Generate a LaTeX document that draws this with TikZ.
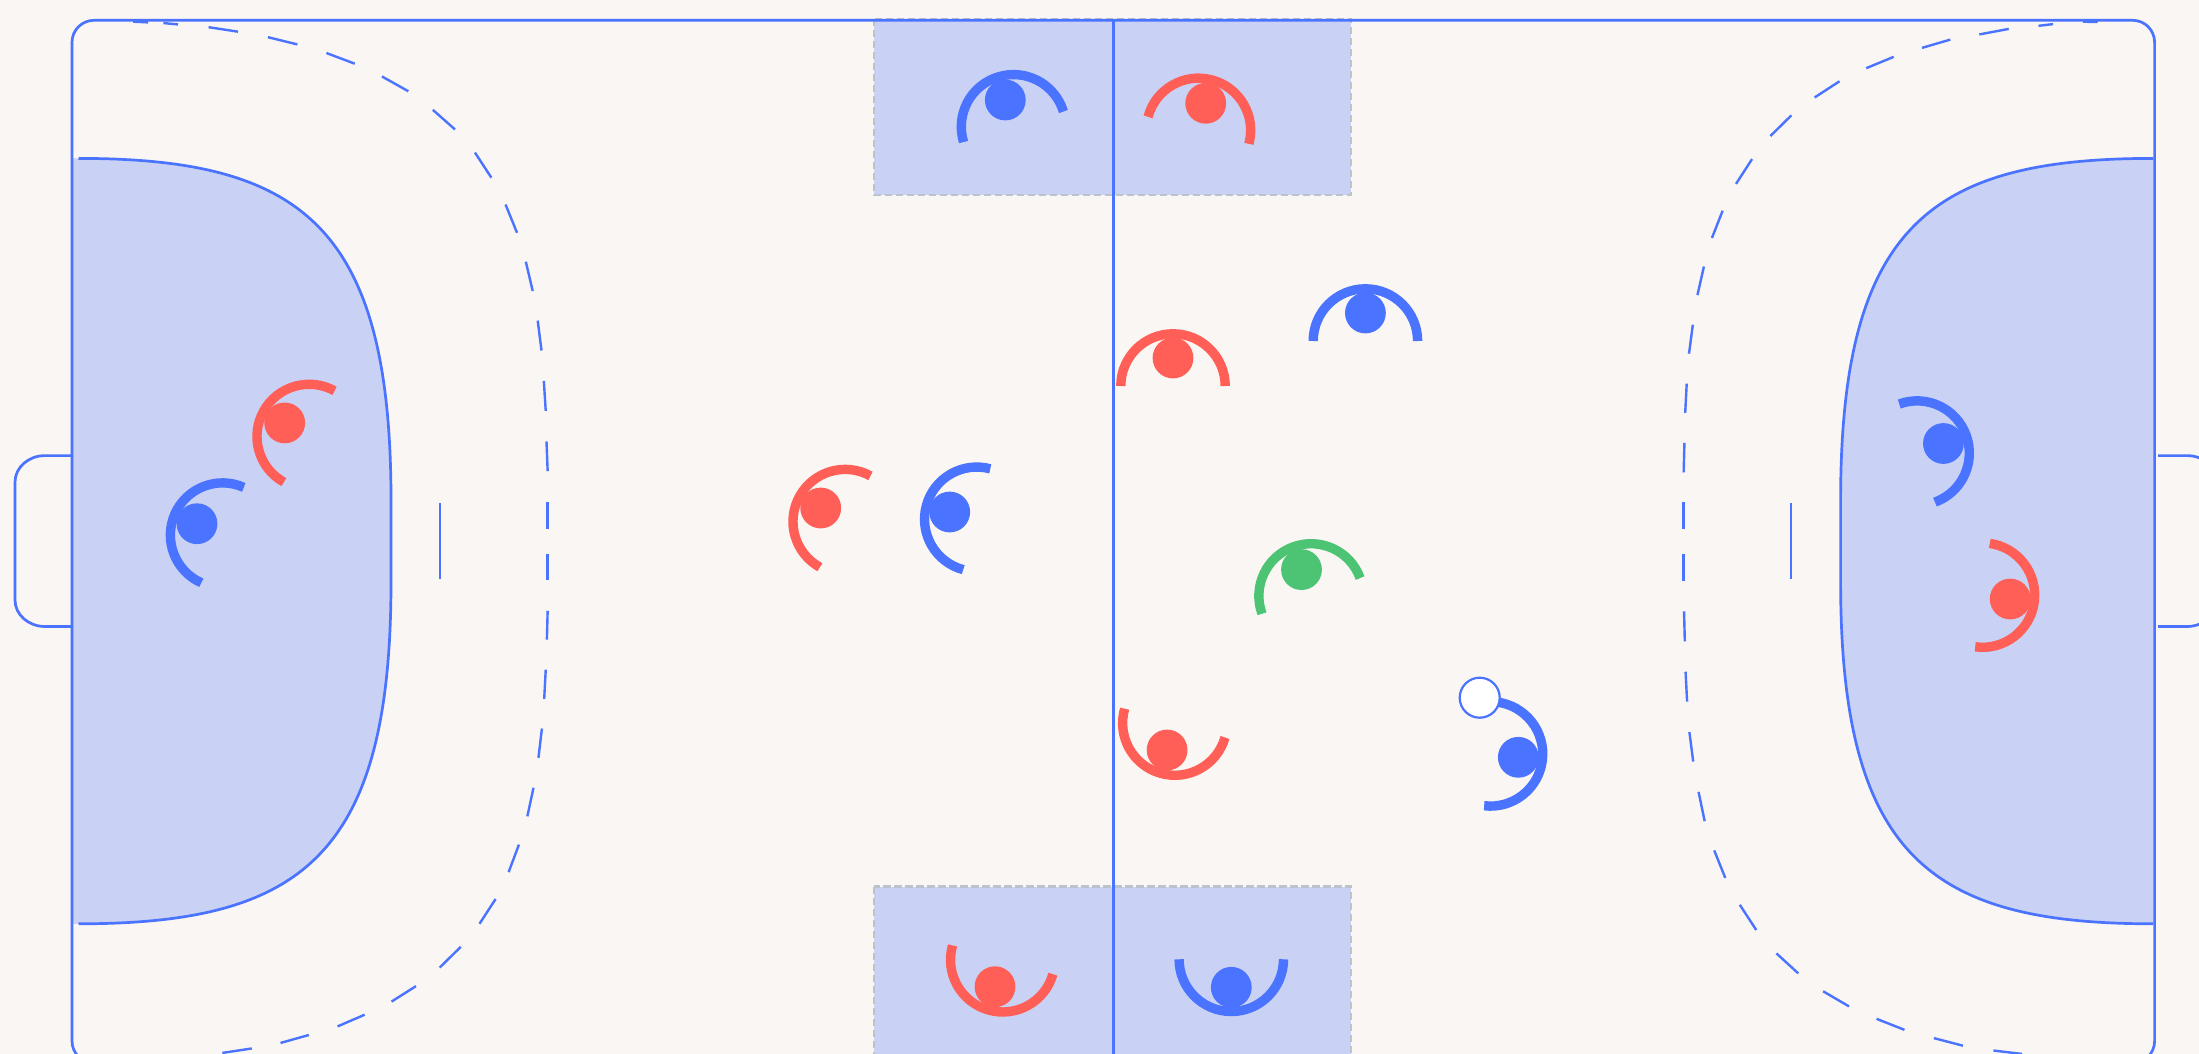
\documentclass[tikz,border=0pt]{standalone}
\definecolor{bgc}{HTML}{FAF6F3}
\definecolor{bluec}{HTML}{4A73FF}
\definecolor{redc}{HTML}{FF5F57}
\definecolor{greenc}{HTML}{4CC474}
\definecolor{areac}{HTML}{C9D2F4}
\definecolor{zonec}{HTML}{BAC4CA}
\tikzset{
  courtline/.style={draw=bluec,line width=1.35pt},
  dashpiece/.style={draw=bluec,line width=1.2pt},
  areafill/.style={fill=areac,draw=none},
  subzone/.style={fill=areac,draw=zonec,line width=1.3pt,dash pattern=on 3.6pt off 1.9pt},
  playerdot/.style={circle,inner sep=0pt,minimum size=20.4pt,draw=none},
  playerarc/.style={line width=4.7pt,line cap=butt},
  ballnode/.style={circle,inner sep=0pt,minimum size=20pt,fill=white,draw=bluec,line width=1.1pt}
}
\begin{document}
\begin{tikzpicture}[x=0.5pt,y=-0.5pt]
\useasboundingbox (0,0) rectangle (2199,1054);
\clip (0,0) rectangle (2199,1054);
\fill[bgc] (0,0) rectangle (2199,1054);

% substitution zones
\draw[subzone] (874,19) rectangle (1351,195);
\draw[subzone] (874,886.7) rectangle (1351,1100);

% goal areas
\fill[areafill] (72,158.4) -- (78.5,158.4) .. controls (300,158.4) and (391,225) .. (391,500)
  -- (391,582.2) .. controls (391,857.2) and (300,923.8) .. (78.5,923.8) -- (72,923.8) -- cycle;
\draw[courtline] (78.5,158.4) .. controls (300,158.4) and (391,225) .. (391,500)
  -- (391,582.2) .. controls (391,857.2) and (300,923.8) .. (78.5,923.8);
\fill[areafill] (2154.6,158.4) -- (2153,158.4) .. controls (1931.6,158.4) and (1840.6,225) .. (1840.6,500)
  -- (1840.6,582.2) .. controls (1840.6,857.2) and (1931.6,923.8) .. (2153,923.8) -- (2154.6,923.8) -- cycle;
\draw[courtline] (2153,158.4) .. controls (1931.6,158.4) and (1840.6,225) .. (1840.6,500)
  -- (1840.6,582.2) .. controls (1840.6,857.2) and (1931.6,923.8) .. (2153,923.8);

% court and centre line
\draw[courtline,rounded corners=11pt] (72,20.3) rectangle (2154.6,1063);
\draw[courtline] (1113.3,20.3) -- (1113.3,1063);

% goals
\draw[courtline] (72,455.6) -- (45,455.6) arc[start angle=90,end angle=180,x radius=15pt,y radius=13.25pt]
  -- (15,600) arc[start angle=180,end angle=270,x radius=15pt,y radius=13.25pt] -- (72,626.5);
\draw[courtline] (2158,455.6) -- (2187,455.6) arc[start angle=90,end angle=0,x radius=15pt,y radius=13.25pt]
  -- (2217,600) arc[start angle=0,end angle=-90,x radius=15pt,y radius=13.25pt] -- (2158,626.5);

% seven-metre marks
\draw[dashpiece] (440,503.4) -- (440,579.4);
\draw[dashpiece] (1791,503.4) -- (1791,579.4);

% free-throw line, left half (measured dashes)
\foreach \a/\b/\c/\d in {
348/63/387/65, 427/67/465/71, 545/79/622/92, 700/108/777/129, 853/154/927/185,
998/222/1067/265, 1131/319/1189/376, 1241/443/1284/516, 1321/594/1351/676,
1374/760/1392/845, 1405/931/1415/1018, 1421/1106/1426/1193, 1428/1282/1431/1368,
1431/1458/1431/1535}
  \draw[dashpiece] ({\a/2.613},{\b/2.904}) -- ({\c/2.613},{\d/2.904});
\foreach \a/\b/\c/\d in {
1431/115/1431/193, 1431/281/1429/365, 1426/452/1422/537, 1416/623/1407/708,
1394/795/1378/878, 1356/960/1329/1040, 1295/1118/1253/1190, 1204/1257/1149/1317,
1087/1371/1023/1416, 953/1454/882/1488, 807/1513/733/1536, 658/1552/581/1565}
  \draw[dashpiece] ({\a/2.613},{514+\b/2.904}) -- ({\c/2.613},{514+\d/2.904});

% free-throw line, right half (measured dashes)
\foreach \a/\b/\c/\d in {
1265/63/1303/64, 1148/75/1186/70, 993/100/1070/84, 843/139/917/115, 697/198/769/165,
562/283/627/236, 446/395/501/335, 356/534/398/462, 293/691/321/612, 255/857/272/774,
233/1027/243/943, 223/1199/227/1114, 219/1372/221/1286, 219/1536/219/1458}
  \draw[dashpiece] ({1600+\a/2.618},{\b/2.904}) -- ({1600+\c/2.618},{\d/2.904});
\foreach \a/\b/\c/\d in {
219/115/219/194, 220/283/222/370, 224/458/228/545, 234/633/244/719, 258/807/274/892,
299/977/328/1057, 366/1135/409/1208, 462/1276/519/1334, 584/1386/652/1430,
724/1466/797/1498, 874/1522/950/1544, 1030/1558/1105/1568}
  \draw[dashpiece] ({1600+\a/2.618},{514+\b/2.904}) -- ({1600+\c/2.618},{514+\d/2.904});

% players: colour / dot x / dot y / facing angle
\foreach \col/\x/\y/\t [count=\i] in {
bluec/1005.3/100/107, redc/1205.7/103.3/75, redc/995/986.7/-106, bluec/1231.3/987.3/-90,
redc/284.7/422.9/151, bluec/197/523.7/156, redc/820.7/508/151, bluec/949.7/512/165,
redc/1173/358/90, bluec/1365.4/313/90, greenc/1301.5/569.6/110, redc/1167.1/750/-106,
bluec/1518.3/757.3/-7, bluec/1943.4/443.5/20, redc/2010.2/599/-8}
{
  \node[playerdot,fill=\col] (p\i) at (\x,\y) {};
  \draw[playerarc,draw=\col] (p\i.center) ++(\t+180:14pt) ++(\t-90:26.1pt)
     arc[start angle=\t-90,delta angle=180,radius=26.1pt];
}

% ball
\node[ballnode] (ball) at (1479.7,697.7) {};
\end{tikzpicture}
\end{document}
